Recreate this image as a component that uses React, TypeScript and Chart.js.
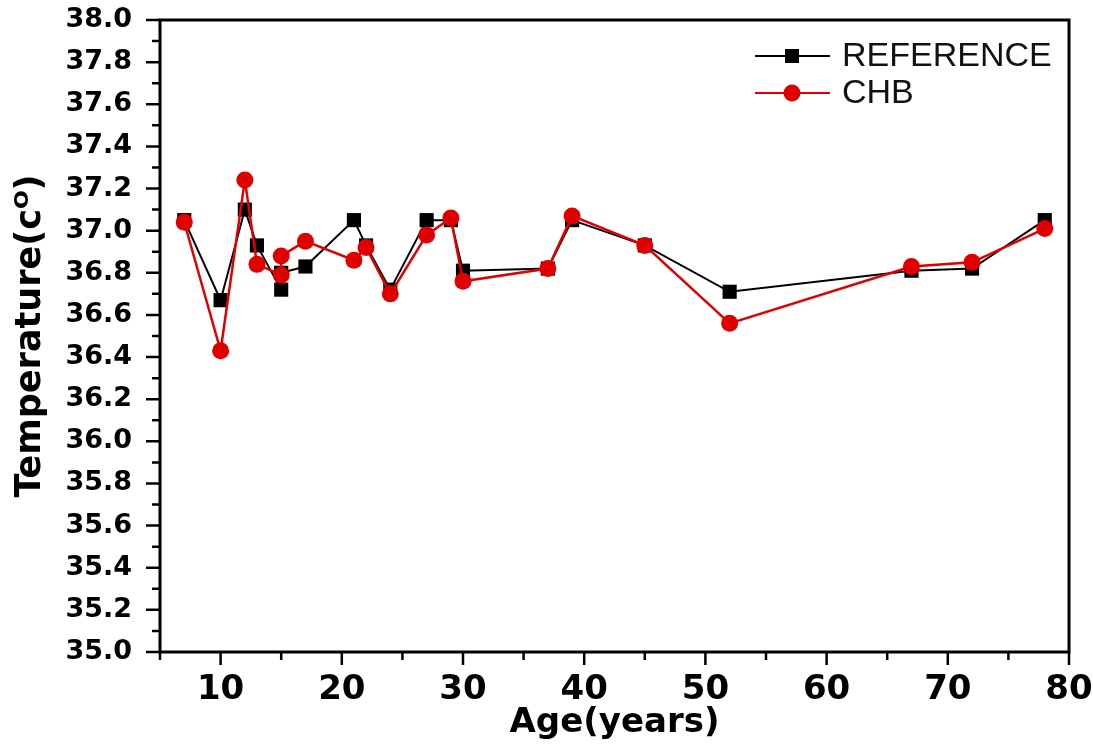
import React, { useEffect, useRef } from "react";
import { Chart, registerables } from "chart.js";

Chart.register(...registerables);

const REF_AGES = [7, 10, 12, 13, 15, 15, 17, 21, 22, 24, 27, 29, 30, 37, 39, 45, 52, 67, 72, 78];
const REF_TEMPS = [37.05, 36.67, 37.1, 36.93, 36.72, 36.8, 36.83, 37.05, 36.93, 36.72, 37.05, 37.05, 36.81, 36.82, 37.05, 36.93, 36.71, 36.81, 36.82, 37.05];

const CHB_AGES = [7, 10, 12, 13, 15, 15, 17, 21, 22, 24, 27, 29, 30, 37, 39, 45, 52, 67, 72, 78];
const CHB_TEMPS = [37.04, 36.43, 37.24, 36.84, 36.79, 36.88, 36.95, 36.86, 36.92, 36.7, 36.98, 37.06, 36.76, 36.82, 37.07, 36.93, 36.56, 36.83, 36.85, 37.01];

const X_TICKS = [10, 20, 30, 40, 50, 60, 70, 80];
const X_MINOR = [5, 15, 25, 35, 45, 55, 65, 75];
const Y_TICKS = [35.0, 35.2, 35.4, 35.6, 35.8, 36.0, 36.2, 36.4, 36.6, 36.8, 37.0, 37.2, 37.4, 37.6, 37.8, 38.0];
const Y_MINOR = [35.1, 35.3, 35.5, 35.7, 35.9, 36.1, 36.3, 36.5, 36.7, 36.9, 37.1, 37.3, 37.5, 37.7, 37.9];

const SERIES_NAMES = ["REFERENCE", "CHB"];

const BOLD_FAMILY = '"DejaVu Sans", sans-serif';

const framePlugin = {
  id: "frameTicks",
  afterDraw(chart: any) {
    const { ctx, chartArea } = chart;
    const { left, right, top, bottom } = chartArea;
    const xs = chart.scales.x;
    const ys = chart.scales.y;
    ctx.save();
    ctx.strokeStyle = "#000";
    ctx.lineWidth = 3;
    ctx.strokeRect(left, top, right - left, bottom - top);
    ctx.lineWidth = 2.5;
    ctx.beginPath();
    Y_TICKS.forEach((v) => {
      const y = ys.getPixelForValue(v);
      ctx.moveTo(left, y);
      ctx.lineTo(left - 14, y);
    });
    Y_MINOR.forEach((v) => {
      const y = ys.getPixelForValue(v);
      ctx.moveTo(left, y);
      ctx.lineTo(left - 8, y);
    });
    X_TICKS.forEach((v) => {
      const x = xs.getPixelForValue(v);
      ctx.moveTo(x, bottom);
      ctx.lineTo(x, bottom + 13);
    });
    X_MINOR.forEach((v) => {
      const x = xs.getPixelForValue(v);
      ctx.moveTo(x, bottom);
      ctx.lineTo(x, bottom + 8);
    });
    ctx.stroke();

    // legend
    const items = [
      { name: SERIES_NAMES[0], color: "#000", style: "rect", y: 56 },
      { name: SERIES_NAMES[1], color: "#e00000", style: "circle", y: 93 },
    ];
    items.forEach((it) => {
      ctx.strokeStyle = it.color;
      ctx.fillStyle = it.color;
      ctx.lineWidth = 2;
      ctx.beginPath();
      ctx.moveTo(755, it.y);
      ctx.lineTo(830, it.y);
      ctx.stroke();
      ctx.beginPath();
      if (it.style === "rect") {
        ctx.rect(785, it.y - 7, 14, 14);
      } else {
        ctx.arc(792, it.y, 8.5, 0, Math.PI * 2);
      }
      ctx.fill();
      ctx.fillStyle = "#111";
      ctx.font = '34px "Liberation Sans", Arial, sans-serif';
      ctx.textAlign = "left";
      ctx.textBaseline = "middle";
      ctx.fillText(it.name, 842, it.y + 1);
    });
    ctx.restore();
  },
};

export default function App() {
  const ref = useRef<HTMLCanvasElement>(null);
  useEffect(() => {
    if (!ref.current) return;
    const chart = new Chart(ref.current, {
      type: "line",
      data: {
        datasets: [
          {
            label: SERIES_NAMES[1],
            data: CHB_AGES.map((a, i) => ({ x: a, y: CHB_TEMPS[i] })),
            borderColor: "#e00000",
            backgroundColor: "#e00000",
            borderWidth: 2.5,
            pointStyle: "circle",
            pointRadius: 8.5,
            pointBorderWidth: 0,
            tension: 0,
          },
          {
            label: SERIES_NAMES[0],
            data: REF_AGES.map((a, i) => ({ x: a, y: REF_TEMPS[i] })),
            borderColor: "#000",
            backgroundColor: "#000",
            borderWidth: 2,
            pointStyle: "rect",
            pointRadius: 10,
            pointBorderWidth: 0,
            tension: 0,
          },
        ],
      },
      options: {
        responsive: false,
        animation: false,
        layout: { padding: { left: 0, top: 20, right: 24, bottom: 0 } },
        plugins: { legend: { display: false }, tooltip: { enabled: false } },
        scales: {
          x: {
            type: "linear",
            min: 5,
            max: 80,
            grid: { display: false, drawTicks: false },
            border: { display: false },
            afterBuildTicks: (s: any) => {
              s.ticks = X_TICKS.map((v) => ({ value: v }));
            },
            afterFit: (s: any) => {
              s.height = 92;
              s.paddingLeft = 0;
              s.paddingRight = 0;
            },
            ticks: {
              color: "#000",
              padding: 18,
              font: { family: BOLD_FAMILY, size: 34, weight: "bold" },
              maxRotation: 0,
              callback: (v: any) => String(v),
            },
            title: {
              display: true,
              text: "Age(years)",
              color: "#000",
              font: { family: BOLD_FAMILY, size: 34, weight: "bold" },
              padding: { top: 0, bottom: 0 },
            },
          },
          y: {
            type: "linear",
            min: 35,
            max: 38,
            grid: { display: false, drawTicks: false },
            border: { display: false },
            afterBuildTicks: (s: any) => {
              s.ticks = Y_TICKS.map((v) => ({ value: v }));
            },
            afterFit: (s: any) => {
              s.width = 160;
              s.paddingTop = 0;
              s.paddingBottom = 0;
            },
            ticks: {
              color: "#000",
              padding: 28,
              font: { family: BOLD_FAMILY, size: 27, weight: "bold" },
              callback: (v: any) => Number(v).toFixed(1),
            },
            title: {
              display: true,
              text: "Temperature(cᴼ)",
              color: "#000",
              font: { family: BOLD_FAMILY, size: 35, weight: "bold" },
              padding: { top: 10, bottom: 0 },
            },
          },
        },
      },
      plugins: [framePlugin],
    });
    return () => chart.destroy();
  }, []);
  return (
    <canvas
      ref={ref}
      width={1093}
      height={744}
      style={{ position: "absolute", left: 0, top: 0, background: "#fff" }}
    />
  );
}
